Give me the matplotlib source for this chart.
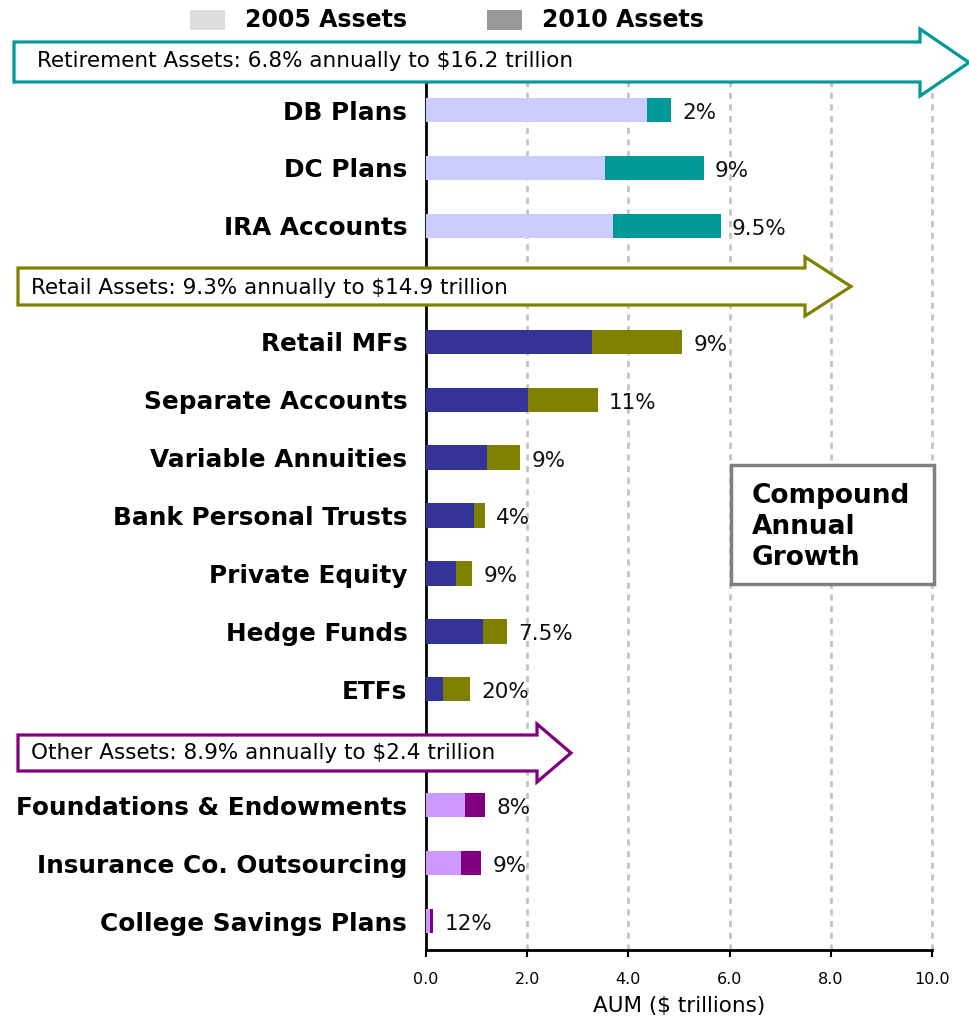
import matplotlib
matplotlib.use("Agg")
import matplotlib.pyplot as plt
from matplotlib.patches import Polygon, Rectangle
import numpy as np

# AUM in $ trillions
categories = ["DB Plans", "DC Plans", "IRA Accounts",
              "Retail MFs", "Separate Accounts", "Variable Annuities",
              "Bank Personal Trusts", "Private Equity", "Hedge Funds", "ETFs",
              "Foundations & Endowments", "Insurance Co. Outsourcing",
              "College Savings Plans"]
assets_2005 = [4.37, 3.54, 3.70, 3.28, 2.02, 1.21, 0.95, 0.59, 1.13, 0.34, 0.77, 0.69, 0.08]
assets_2010 = [4.84, 5.49, 5.83, 5.06, 3.40, 1.86, 1.17, 0.91, 1.60, 0.87, 1.17, 1.09, 0.14]
growth = ["2%", "9%", "9.5%", "9%", "11%", "9%", "4%", "9%", "7.5%", "20%", "8%", "9%", "12%"]
group = [0, 0, 0, 1, 1, 1, 1, 1, 1, 1, 2, 2, 2]

group_titles = ["Retirement Assets: 6.8% annually to $16.2 trillion",
                "Retail Assets: 9.3% annually to $14.9 trillion",
                "Other Assets: 8.9% annually to $2.4 trillion"]
colors_2005 = ["#ccccff", "#333399", "#cc99ff"]
colors_2010 = ["#009999", "#808000", "#800080"]

xticks = [0, 2, 4, 6, 8, 10]

W, H = 969, 1023
fig = plt.figure(figsize=(W / 100, H / 100), dpi=100)
ax = fig.add_axes([426 / W, 1 - 950 / H, 506 / W, (950 - 63.7) / H])

# one slot per row, an extra slot before each group for the arrow
slots = []
s = 0
for i, g in enumerate(group):
    if i == 0 or group[i - 1] != g:
        s += 1
    slots.append(s)
    s += 1
slots = np.array(slots)

c05 = [colors_2005[g] for g in group]
c10 = [colors_2010[g] for g in group]
inc = np.array(assets_2010) - np.array(assets_2005)
ax.barh(slots, assets_2005, height=0.42, color=c05, zorder=3)
ax.barh(slots, inc, left=assets_2005, height=0.42, color=c10, zorder=3)

for y, v, lab in zip(slots, assets_2010, growth):
    ax.annotate(lab, (v, y + 0.05), xytext=(8, 0), textcoords="offset points",
                va="center", ha="left", fontsize=15.5, color="#111111")

ax.set_xlim(0, 10)
ax.set_ylim(15.5, 0.2)
ax.set_xticks(xticks)
ax.set_xticklabels([f"{t:.1f}" for t in xticks], fontsize=11.5)
ax.set_yticks(slots)
ax.set_yticklabels(categories, fontsize=17.8, fontweight="bold")
ax.tick_params(axis="y", length=0, pad=13.5)
ax.tick_params(axis="x", length=5, width=1.5, pad=11)
for x in xticks[1:]:
    ax.axvline(x, color="#c4c4c4", lw=2, ls=(0, (2.2, 2.0)), zorder=1, clip_on=False)
for side in ["top", "right"]:
    ax.spines[side].set_visible(False)
ax.spines["left"].set_linewidth(2)
ax.spines["bottom"].set_linewidth(2)
ax.set_xlabel("AUM ($ trillions)", fontsize=15.5, labelpad=6)


def px(x, y):
    return (x / W, 1 - y / H)


def arrow(x0, x1, xtip, ytop, ybot, htop, hbot, color):
    ymid = (htop + hbot) / 2
    pts = [px(x0, ytop), px(x1, ytop), px(x1, htop), px(xtip, ymid),
           px(x1, hbot), px(x1, ybot), px(x0, ybot)]
    fig.add_artist(Polygon(pts, closed=True, facecolor="white", edgecolor=color,
                           lw=2.3, transform=fig.transFigure, zorder=5))


# group arrows
arrow(14, 920, 969, 42, 82, 29, 96, colors_2010[0])
arrow(18, 805, 851, 268, 305, 257, 316, colors_2010[1])
arrow(18, 537, 571, 735, 771, 724, 782, colors_2010[2])
fig.text(*px(37, 61), group_titles[0], fontsize=15.5, va="center", zorder=6)
fig.text(*px(31, 288), group_titles[1], fontsize=15.5, va="center", zorder=6)
fig.text(*px(31, 753), group_titles[2], fontsize=15.5, va="center", zorder=6)

# legend
for xl, col, lab in [(190, "#dddddd", "2005 Assets"), (487, "#999999", "2010 Assets")]:
    fig.add_artist(Rectangle(px(xl, 30), 35 / W, 20 / H, facecolor=col,
                             edgecolor="none", transform=fig.transFigure))
    fig.text(*px(xl + 55, 20), lab, fontsize=17, fontweight="bold", va="center")

# label box
fig.add_artist(Rectangle(px(731, 584), 203 / W, 119 / H, facecolor="white",
                         edgecolor="#808080", lw=2.5, transform=fig.transFigure, zorder=5))
fig.text(*px(752, 527), "Compound\nAnnual\nGrowth", fontsize=19, fontweight="bold",
         va="center", ha="left", linespacing=1.25, zorder=6)

fig.savefig("out.png", dpi=100)
